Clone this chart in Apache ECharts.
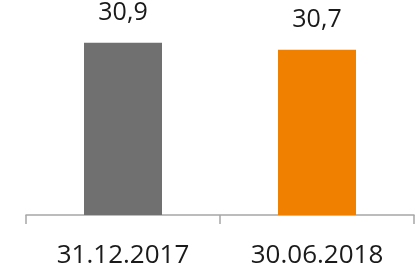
<!DOCTYPE html>
<html>
<head>
<meta charset="utf-8">
<script src="https://cdn.jsdelivr.net/npm/echarts@6/dist/echarts.min.js"></script>
<style>
  html, body { margin: 0; padding: 0; background: #fff; }
  #chart { width: 416px; height: 269px; }
</style>
</head>
<body>
<div id="chart"></div>
<script>
var dates = ['31.12.2017', '30.06.2018'];
var values = [30.9, 30.7];
var barColors = ['#707070', '#F08100'];

var myChart = echarts.init(document.getElementById('chart'));

var option = {
    animation: false,
    grid: { left: 26, right: 2, top: 4, bottom: 53 },
    xAxis: {
        type: 'category',
        data: dates,
        axisLine: { lineStyle: { color: '#A6A6A6', width: 1.5 } },
        axisTick: { show: true, length: 9, lineStyle: { color: '#A6A6A6', width: 1.5 } },
        axisLabel: {
            color: '#1a1a1a',
            fontFamily: 'Open Sans',
            fontSize: 26,
            margin: 28
        }
    },
    yAxis: {
        type: 'value',
        min: 26,
        max: 32,
        show: false
    },
    series: [{
        type: 'bar',
        barWidth: 78,
        data: values.map(function (v, i) {
            return { value: v, itemStyle: { color: barColors[i] } };
        }),
        label: {
            show: true,
            position: 'top',
            distance: 17,
            color: '#1a1a1a',
            fontFamily: 'Open Sans',
            fontSize: 25,
            formatter: function (p) {
                return String(p.value).replace('.', ',');
            }
        }
    }]
};

myChart.setOption(option);
</script>
</body>
</html>
